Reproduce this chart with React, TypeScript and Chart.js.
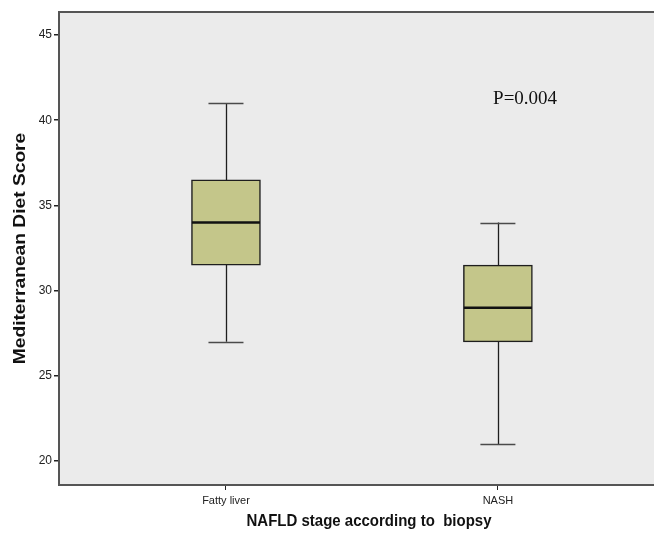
import React, { useEffect, useRef } from "react";
import { Chart, registerables } from "chart.js";

Chart.register(...registerables);

const categories = ["Fatty liver", "NASH"];
const whiskerLow = [27, 21];
const q1 = [31.5, 27];
const median = [34, 29];
const q3 = [36.5, 31.5];
const whiskerHigh = [41, 34];
const yTicks = [20, 25, 30, 35, 40, 45];
const annotationText = "P=0.004";
const annotationPos = { x: 2.1, y: 40.95 };

const BOX_FILL = "#c4c68a";
const INK = "#1e1e1e";

const boxPlugin = {
  id: "boxExtras",
  beforeDraw(chart: any) {
    const { ctx, chartArea } = chart;
    ctx.save();
    ctx.fillStyle = "#ebebeb";
    ctx.fillRect(chartArea.left, chartArea.top, chartArea.right - chartArea.left, chartArea.bottom - chartArea.top);
    ctx.restore();
  },
  beforeDatasetsDraw(chart: any) {
    const { ctx, scales } = chart;
    const xs = scales.x;
    const ys = scales.y;
    ctx.save();
    ctx.strokeStyle = INK;
    ctx.lineWidth = 1.3;
    categories.forEach((_, i) => {
      const cx = Math.round(xs.getPixelForValue(i + 1)) + 0.5;
      const yl = ys.getPixelForValue(whiskerLow[i]);
      const yq1 = ys.getPixelForValue(q1[i]);
      const yq3 = ys.getPixelForValue(q3[i]);
      const yh = ys.getPixelForValue(whiskerHigh[i]);
      ctx.beginPath();
      ctx.moveTo(cx, yl);
      ctx.lineTo(cx, yq1);
      ctx.moveTo(cx, yq3);
      ctx.lineTo(cx, yh);
      ctx.stroke();
    });
    ctx.strokeStyle = "#4a4a4a";
    ctx.lineWidth = 1.5;
    categories.forEach((_, i) => {
      const cx = xs.getPixelForValue(i + 1);
      [whiskerLow[i], whiskerHigh[i]].forEach((v) => {
        const y = Math.round(ys.getPixelForValue(v)) + 0.5;
        ctx.beginPath();
        ctx.moveTo(cx - 17.5, y);
        ctx.lineTo(cx + 17.5, y);
        ctx.stroke();
      });
    });
    ctx.restore();
  },
  afterDatasetsDraw(chart: any) {
    const { ctx, scales, chartArea } = chart;
    const xs = scales.x;
    const ys = scales.y;
    ctx.save();
    ctx.strokeStyle = "#111";
    ctx.lineWidth = 2.6;
    categories.forEach((_, i) => {
      const cx = xs.getPixelForValue(i + 1);
      const y = ys.getPixelForValue(median[i]);
      ctx.beginPath();
      ctx.moveTo(cx - 34, y);
      ctx.lineTo(cx + 34, y);
      ctx.stroke();
    });
    // top border
    ctx.strokeStyle = "#555";
    ctx.lineWidth = 2;
    ctx.beginPath();
    ctx.moveTo(chartArea.left, chartArea.top);
    ctx.lineTo(chartArea.right, chartArea.top);
    ctx.stroke();
    // annotation
    ctx.fillStyle = "#111";
    ctx.font = '19px "Liberation Serif", "Times New Roman", serif';
    ctx.textAlign = "center";
    ctx.textBaseline = "alphabetic";
    ctx.fillText(annotationText, xs.getPixelForValue(annotationPos.x), ys.getPixelForValue(annotationPos.y));
    ctx.restore();
  },
  afterDraw(chart: any) {
    const { ctx, chartArea } = chart;
    ctx.save();
    ctx.fillStyle = "#111";
    ctx.font = 'bold 15px "Liberation Sans", Arial, sans-serif';
    ctx.textAlign = "center";
    ctx.textBaseline = "middle";
    ctx.save();
    ctx.translate(369, 521);
    ctx.scale(1, 1.15);
    ctx.fillText("NAFLD stage according to  biopsy", 0, 0);
    ctx.restore();
    ctx.save();
    ctx.translate(21, (chartArea.top + chartArea.bottom) / 2);
    ctx.rotate(-Math.PI / 2);
    ctx.scale(1.2, 1);
    ctx.font = 'bold 16px "Liberation Sans", Arial, sans-serif';
    ctx.fillText("Mediterranean Diet Score", 0, 0);
    ctx.restore();
    ctx.restore();
  },
};

export default function App() {
  const ref = useRef<HTMLCanvasElement | null>(null);
  useEffect(() => {
    if (!ref.current) return;
    const chart = new Chart(ref.current, {
      type: "bar",
      data: {
        datasets: [
          {
            data: categories.map((_, i) => ({ x: i + 1, y: [q1[i], q3[i]] })) as any,
            backgroundColor: BOX_FILL,
            borderColor: INK,
            borderWidth: 1.5,
            borderSkipped: false,
            barThickness: 69,
          },
        ],
      },
      options: {
        animation: false,
        responsive: false,
        layout: { padding: { top: 12, right: 0, left: 0, bottom: 0 } },
        plugins: { legend: { display: false }, tooltip: { enabled: false } },
        scales: {
          x: {
            type: "linear",
            offset: false,
            min: 0.386,
            max: 2.574,
            afterBuildTicks: (s: any) => {
              s.ticks = categories.map((_, i) => ({ value: i + 1 }));
            },
            afterFit: (s: any) => {
              s.height = 49;
            },
            ticks: {
              callback: (v: any) => categories[Math.round(v) - 1] ?? "",
              color: "#222",
              font: { family: '"Liberation Sans", Arial, sans-serif', size: 11 },
              padding: 4,
              autoSkip: false,
              maxRotation: 0,
            },
            grid: { offset: false, drawOnChartArea: false, tickLength: 5, color: "#222", lineWidth: 1 },
            border: { display: true, color: "#555", width: 2 },
          },
          y: {
            min: 18.6,
            max: 46.35,
            afterBuildTicks: (s: any) => {
              s.ticks = yTicks.map((v) => ({ value: v }));
            },
            afterFit: (s: any) => {
              s.width = 59;
            },
            ticks: {
              color: "#222",
              font: { family: '"Liberation Sans", Arial, sans-serif', size: 12 },
              padding: 2,
            },
            grid: { drawOnChartArea: false, tickLength: 5, color: "#222", lineWidth: 1.5 },
            border: { display: true, color: "#555", width: 2 },
          },
        },
      },
      plugins: [boxPlugin],
    });
    return () => chart.destroy();
  }, []);
  return (
    <div style={{ position: "fixed", left: 0, top: 0, width: 654, height: 534, background: "#fff" }}>
      <canvas ref={ref} width={654} height={534} style={{ display: "block" }} />
    </div>
  );
}
